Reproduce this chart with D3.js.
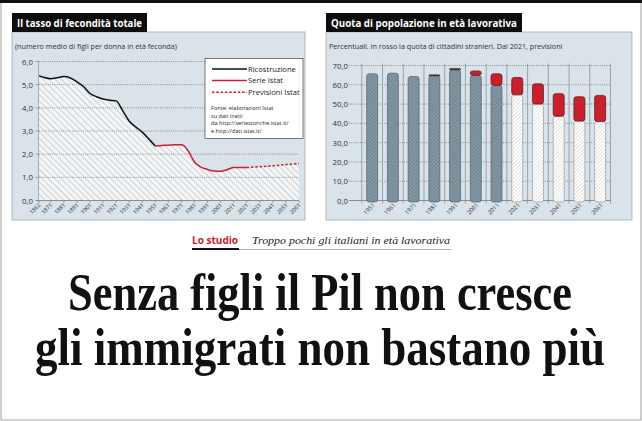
<!DOCTYPE html>
<html><head><meta charset="utf-8">
<script src="https://cdn.jsdelivr.net/npm/d3@7"></script>
<style>body{margin:0;background:#fff}svg{display:block}</style>
</head><body>
<svg id="c" width="642" height="421"></svg>
<script>
// ---------- DATA ----------
const ricYears = [1862,1866,1871,1876,1881,1886,1891,1896,1901,1906,1911,1916,1921,1926,1931,1936,1941,1946,1951];
const ricValues = [5.39,5.31,5.26,5.30,5.35,5.29,5.12,4.92,4.62,4.48,4.38,4.33,4.30,3.88,3.43,3.18,2.95,2.66,2.35];
const istYears = [1951,1956,1961,1966,1971,1973,1976,1981,1986,1991,1996,2001,2006,2011,2016,2021];
const istValues = [2.35,2.37,2.39,2.41,2.41,2.36,2.16,1.66,1.44,1.34,1.27,1.26,1.33,1.42,1.42,1.42];
const prevYears = [2021,2031,2041,2051,2061];
const prevValues = [1.42,1.46,1.50,1.55,1.59];
const fertTicks = [1862,1871,1881,1891,1901,1911,1921,1931,1941,1951,1961,1971,1981,1991,2001,2011,2021,2031,2041,2051,2061];
const fertYTicks = [0,1,2,3,4,5,6];

const popYears = ['1951','1961','1971','1981','1991','2001','2011','2021','2031','2041','2051','2061'];
const popItalians = [65.7,66.0,64.3,64.7,67.8,64.9,59.7,54.8,50.0,43.7,41.2,40.9];
const popForeign = [0,0,0,0.5,0.7,2.3,6.0,9.0,10.5,11.7,12.6,13.6];
const popForecastFrom = '2021';
const popYTicks = [0,10,20,30,40,50,60,70];

const svg = d3.select('#c');
const SANS = "'Open Sans', 'DejaVu Sans', sans-serif";
const SERIF = "'Liberation Serif', 'DejaVu Serif', serif";
const fmt = d => d3.format('.1f')(d).replace('.', ',');

// ---------- patterns ----------
const defs = svg.append('defs');
function hatch(id, bg, col, rot, gap, w) {
  const p = defs.append('pattern').attr('id', id).attr('patternUnits', 'userSpaceOnUse')
    .attr('width', gap).attr('height', gap).attr('patternTransform', `rotate(${rot})`);
  p.append('rect').attr('width', gap).attr('height', gap).attr('fill', bg);
  p.append('line').attr('x1', 0).attr('y1', 0).attr('x2', 0).attr('y2', gap)
    .attr('stroke', col).attr('stroke-width', w);
}
hatch('hArea', '#f3f5f6', '#98a1a8', -45, 4.4, 0.8);
hatch('hDark', '#8597a3', '#5b6d79', 45, 2.6, 0.9);
hatch('hWhite', '#ffffff', '#b5b5b5', 45, 2.6, 0.8);

// ---------- frame ----------
svg.append('rect').attr('x', 1).attr('y', 1).attr('width', 640).attr('height', 419)
  .attr('fill', 'none').attr('stroke', '#a0a0a0').attr('stroke-width', 1);
svg.append('rect').attr('x', 0).attr('y', 0).attr('width', 642).attr('height', 3).attr('fill', '#111');

function panel(x, w, title, tw, sub) {
  svg.append('rect').attr('x', x).attr('y', 32).attr('width', w).attr('height', 188)
    .attr('fill', '#d9e3e9').attr('stroke', '#9eaab2').attr('stroke-width', 0.8);
  svg.append('rect').attr('x', x).attr('y', 13).attr('width', tw).attr('height', 19).attr('fill', '#0d0d0d');
  svg.append('text').attr('x', x + 5).attr('y', 27).attr('fill', '#fff')
    .attr('font-family', SANS).attr('font-weight', 700).attr('font-size', 10.5)
    .attr('textLength', tw - 10).attr('lengthAdjust', 'spacingAndGlyphs').text(title);
  svg.append('text').attr('x', x + 3).attr('y', 49).attr('fill', '#333')
    .attr('font-family', SANS).attr('font-size', 7.2).text(sub);
}
panel(12, 293, 'Il tasso di fecondità totale', 135, '(numero medio di figli per donna in età feconda)');
panel(326, 306, 'Quota di popolazione in età lavorativa', 196, 'Percentuali. In rosso la quota di cittadini stranieri. Dal 2021, previsioni');

// ---------- LEFT CHART ----------
const xL = d3.scaleLinear().domain([1862, 2061]).range([39, 299]);
const yL = d3.scaleLinear().domain([0, 6]).range([200.5, 61.5]);
const gL = svg.append('g');

const allPts = ricYears.map((y, i) => [y, ricValues[i]])
  .concat(istYears.slice(1).map((y, i) => [y, istValues[i + 1]]))
  .concat(prevYears.slice(1).map((y, i) => [y, prevValues[i + 1]]));
gL.append('path').datum(allPts)
  .attr('d', d3.area().x(d => xL(d[0])).y0(yL(0)).y1(d => yL(d[1])).curve(d3.curveMonotoneX))
  .attr('fill', 'url(#hArea)');

gL.selectAll('.gl').data(fertYTicks.filter(d => d > 0)).join('line')
  .attr('x1', 39).attr('x2', 299).attr('y1', d => yL(d)).attr('y2', d => yL(d))
  .attr('stroke', '#555').attr('stroke-width', 0.6).attr('stroke-dasharray', '1,1.2');
gL.selectAll('.yl').data(fertYTicks).join('text')
  .attr('x', 33).attr('y', d => yL(d) + 3).attr('text-anchor', 'end')
  .attr('font-family', SANS).attr('font-size', 7.8).attr('fill', '#333').text(fmt);
gL.append('line').attr('x1', 36).attr('x2', 299).attr('y1', yL(0)).attr('y2', yL(0))
  .attr('stroke', '#777').attr('stroke-width', 0.8);
gL.append('line').attr('x1', 38.5).attr('x2', 38.5).attr('y1', yL(6)).attr('y2', yL(0))
  .attr('stroke', '#888').attr('stroke-width', 0.6);
gL.selectAll('.yt').data(fertYTicks).join('line')
  .attr('x1', 35.5).attr('x2', 38.5).attr('y1', d => yL(d)).attr('y2', d => yL(d))
  .attr('stroke', '#777').attr('stroke-width', 0.6);
gL.selectAll('.xt').data(fertTicks).join('line')
  .attr('x1', d => xL(d)).attr('x2', d => xL(d)).attr('y1', yL(0)).attr('y2', yL(0) + 2.5)
  .attr('stroke', '#777').attr('stroke-width', 0.6);
gL.selectAll('.xl').data(fertTicks).join('text')
  .attr('transform', d => `translate(${xL(d) + 2},${yL(0) + 5}) rotate(-45)`)
  .attr('text-anchor', 'end').attr('font-family', SANS).attr('font-size', 5.6).attr('fill', '#333')
  .text(d => d);

const lineGen = d3.line().x(d => xL(d[0])).y(d => yL(d[1])).curve(d3.curveMonotoneX);
gL.append('path').datum(ricYears.map((y, i) => [y, ricValues[i]])).attr('d', lineGen)
  .attr('fill', 'none').attr('stroke', '#111').attr('stroke-width', 1.5);
gL.append('path').datum(istYears.map((y, i) => [y, istValues[i]])).attr('d', lineGen)
  .attr('fill', 'none').attr('stroke', '#c8202f').attr('stroke-width', 1.5);
gL.append('path').datum(prevYears.map((y, i) => [y, prevValues[i]])).attr('d', lineGen)
  .attr('fill', 'none').attr('stroke', '#c8202f').attr('stroke-width', 1.5).attr('stroke-dasharray', '2.5,1.8');

const lg = gL.append('g');
lg.append('rect').attr('x', 205).attr('y', 58.5).attr('width', 98).attr('height', 80)
  .attr('fill', '#fff').attr('stroke', '#444').attr('stroke-width', 0.7);
const legItems = [['Ricostruzione', '#111', null], ['Serie Istat', '#c8202f', null], ['Previsioni Istat', '#c8202f', '2.5,1.8']];
legItems.forEach((it, i) => {
  const y = 69 + i * 11.6;
  lg.append('line').attr('x1', 212).attr('x2', 247).attr('y1', y).attr('y2', y)
    .attr('stroke', it[1]).attr('stroke-width', 1.5).attr('stroke-dasharray', it[2]);
  lg.append('text').attr('x', 248).attr('y', y + 2.8).attr('font-family', SANS).attr('font-size', 7.6)
    .attr('fill', '#222').text(it[0]);
});
['Fonte:  elaborazioni Istat', 'su dati tratti', 'da http://seriestoriche.istat.it/', 'e http://dati.istat.it/'].forEach((t, i) => {
  lg.append('text').attr('x', 211).attr('y', 110 + i * 7.6).attr('font-family', SANS).attr('font-size', 5.6)
    .attr('fill', '#222').text(t);
});

// ---------- RIGHT CHART ----------
const xR = d3.scaleBand().domain(popYears).range([361.8, 610.5]).paddingInner(0).paddingOuter(0);
const yR = d3.scaleLinear().domain([0, 70]).range([200.5, 65.5]);
const gR = svg.append('g');
gR.selectAll('.gr').data(popYTicks).join('line')
  .attr('x1', 349).attr('x2', 611).attr('y1', d => yR(d)).attr('y2', d => yR(d))
  .attr('stroke', '#555').attr('stroke-width', 0.6).attr('stroke-dasharray', d => d === 0 ? null : '1,1.2');
const bounds = popYears.map(d => xR(d)).concat([xR(popYears[popYears.length - 1]) + xR.bandwidth()]);
gR.selectAll('.vl').data(bounds).join('line')
  .attr('x1', d => d).attr('x2', d => d).attr('y1', yR(70) - 2).attr('y2', yR(0) + 3)
  .attr('stroke', '#7d8890').attr('stroke-width', 0.7);
gR.selectAll('.yl').data(popYTicks).join('text')
  .attr('x', 348).attr('y', d => yR(d) + 3).attr('text-anchor', 'end')
  .attr('font-family', SANS).attr('font-size', 7.8).attr('fill', '#333').text(fmt);
gR.selectAll('.xl').data(popYears).join('text')
  .attr('transform', d => `translate(${xR(d) + xR.bandwidth() / 2 + 3},${yR(0) + 5}) rotate(-45)`)
  .attr('text-anchor', 'end').attr('font-family', SANS).attr('font-size', 5.8).attr('fill', '#333')
  .text(d => d);

const bw = 11;
const fc = popYears.indexOf(popForecastFrom);
gR.selectAll('.bi').data(popYears).join('rect')
  .attr('x', d => xR(d) + xR.bandwidth() / 2 - bw / 2).attr('width', bw)
  .attr('y', (d, i) => yR(popItalians[i])).attr('height', (d, i) => yR(0) - yR(popItalians[i]) + 1.5)
  .attr('rx', 2.5)
  .attr('fill', (d, i) => i >= fc ? 'url(#hWhite)' : 'url(#hDark)')
  .attr('stroke', (d, i) => i >= fc ? '#9a9a9a' : '#52636e').attr('stroke-width', 0.7);
gR.selectAll('.bf').data(popYears.filter((d, i) => popForeign[i] > 0)).join('rect')
  .each(function (d) {
    const i = popYears.indexOf(d);
    const top = yR(popItalians[i] + popForeign[i]);
    const h = Math.max(yR(popItalians[i]) - top, 1);
    const big = popForeign[i] >= 2;
    d3.select(this).attr('x', xR(d) + xR.bandwidth() / 2 - bw / 2).attr('width', bw)
      .attr('y', top).attr('height', h)
      .attr('rx', big ? 2.5 : 0.5)
      .attr('fill', big ? '#c8202f' : '#3b2326').attr('stroke', big ? '#5a1212' : '#2a1a1c')
      .attr('stroke-width', big ? 0.7 : 0.4);
  });

// ---------- kicker + headline ----------
svg.append('text').attr('x', 192).attr('y', 244).attr('fill', '#c8202f')
  .attr('font-family', SANS).attr('font-weight', 700).attr('font-size', 10.5)
  .attr('textLength', 46).attr('lengthAdjust', 'spacingAndGlyphs').text('Lo studio');
svg.append('text').attr('x', 252).attr('y', 244).attr('fill', '#222')
  .attr('font-family', SERIF).attr('font-style', 'italic').attr('font-size', 10.5)
  .attr('textLength', 198).attr('lengthAdjust', 'spacingAndGlyphs').text('Troppo pochi gli italiani in età lavorativa');
svg.append('line').attr('x1', 192).attr('x2', 451).attr('y1', 249.5).attr('y2', 249.5).attr('stroke', '#999').attr('stroke-width', 0.8);
svg.append('line').attr('x1', 192).attr('x2', 239).attr('y1', 249).attr('y2', 249).attr('stroke', '#111').attr('stroke-width', 1.8);

const heads = [['Senza figli il Pil non cresce', 68, 310, 504], ['gli immigrati non bastano più', 35, 365, 570]];
heads.forEach(h => {
  svg.append('text').attr('transform', `translate(${h[1]},${h[2]}) scale(1,1.38)`)
    .attr('x', 0).attr('y', 0).attr('font-family', SERIF).attr('font-weight', 700)
    .attr('font-size', 39).attr('fill', '#111').attr('textLength', h[3]).attr('lengthAdjust', 'spacingAndGlyphs')
    .text(h[0]);
});
</script>
</body></html>
